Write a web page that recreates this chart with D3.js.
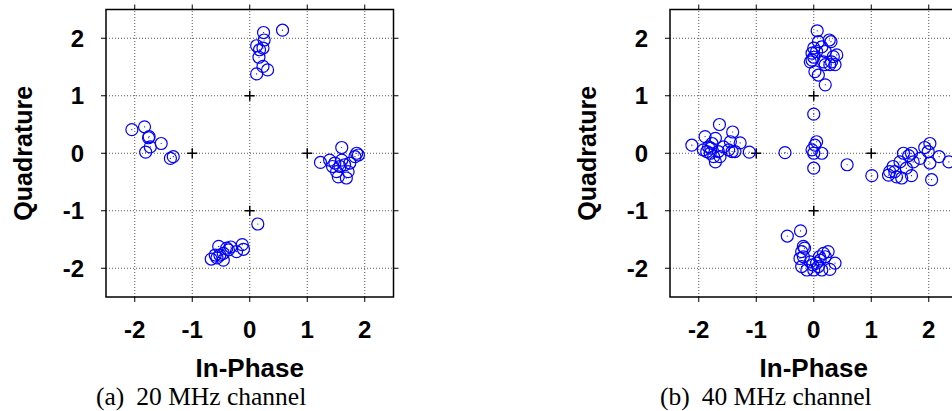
<!DOCTYPE html>
<html>
<head>
<meta charset="utf-8">
<script src="https://cdn.jsdelivr.net/npm/d3@7"></script>
<style>
  body { margin: 0; background: #fff; }
  svg { display: block; }
</style>
</head>
<body>
<div id="chart"></div>
<script>
// tick values shared by both panels
var tickVals = [-2, -1, 0, 1, 2];

// ideal constellation points (drawn as +)
var idealI = [1, 0, -1, 0];
var idealQ = [0, 1, 0, -1];

// 20 MHz channel samples
var iq20I = [0.57, 0.24, 0.25, 0.12, 0.23, 0.17, 0.16, 0.23, 0.31, 0.12,
  -2.05, -1.83, -1.75, -1.76, -1.54, -1.73, -1.81, -1.38, -1.33,
  1.60, 1.23, 1.39, 1.86, 1.89, 1.83, 1.60, 1.48, 1.65, 1.51, 1.71, 1.57, 1.68, 1.44, 1.74, 1.54,
  0.14, -0.13, -0.11, -0.23, -0.40, -0.54, -0.46, -0.37, -0.52, -0.60, -0.46, -0.67, -0.57, -0.33];
var iq20Q = [2.14, 2.10, 1.97, 1.87, 1.83, 1.80, 1.67, 1.51, 1.45, 1.38,
  0.41, 0.46, 0.29, 0.27, 0.17, 0.11, 0.02, -0.09, -0.06,
  0.10, -0.16, -0.12, 0.00, -0.03, -0.06, -0.12, -0.17, -0.20, -0.32, -0.32, -0.23, -0.43, -0.23, -0.17, -0.41,
  -1.23, -1.59, -1.67, -1.71, -1.65, -1.62, -1.74, -1.68, -1.77, -1.77, -1.86, -1.84, -1.82, -1.63];

// 40 MHz channel samples
var iq40I = [0.06, 0.27, 0.30, 0.08, 0.00, 0.14, -0.03, 0.05, 0.20, 0.40, 0.34, 0.31, 0.37, 0.28, -0.03, 0.00, 0.20, 0.17, 0.02, 0.08, 0.20, -0.06,
  -1.64, -2.12, -1.89, -1.71, -1.41, -1.45, -1.28, -1.12, -1.92, -1.83, -1.79, -1.80, -1.74, -1.71, -1.66, -1.57, -1.48, -1.42, -1.37, -1.63, -1.86, -1.77,
  -0.50, 0.00, 0.05, 0.02, -0.03, 0.00, 0.14, 0.00, 0.58,
  1.01, 2.05, 2.02, 1.93, 1.99, 2.18, 2.35, 1.56, 1.70, 1.65, 1.73, 1.85, 1.50, 2.02, 1.38, 1.32, 1.41, 1.44, 1.53, 1.70, 1.30, 1.61,
  -0.46, -0.23, -0.18, -0.16, -0.21, -0.18, -0.24, -0.21, -0.06, 0.00, 0.05, 0.11, 0.20, 0.25, 0.17, 0.14, 0.28, 0.37, -0.12, 0.08, -0.02, 0.10];
var iq40Q = [2.13, 1.97, 1.94, 1.94, 1.83, 1.85, 1.74, 1.77, 1.77, 1.71, 1.68, 1.59, 1.54, 1.54, 1.62, 1.67, 1.54, 1.59, 1.42, 1.36, 1.19, 1.59,
  0.50, 0.14, 0.29, 0.26, 0.37, 0.20, 0.18, 0.02, 0.06, 0.11, 0.09, 0.00, -0.06, -0.15, 0.03, 0.11, 0.06, 0.03, 0.03, -0.06, 0.03, 0.17,
  0.01, 0.68, 0.20, 0.14, 0.06, 0.00, 0.00, -0.26, -0.20,
  -0.39, -0.46, 0.17, 0.10, 0.03, -0.06, -0.15, 0.00, 0.00, -0.04, -0.15, -0.09, -0.15, -0.17, -0.23, -0.32, -0.32, -0.41, -0.43, -0.39, -0.38, -0.26,
  -1.44, -1.35, -1.62, -1.65, -1.71, -1.80, -1.83, -1.97, -1.89, -2.03, -1.91, -1.86, -1.80, -1.71, -1.74, -2.03, -2.02, -1.91, -2.03, -1.97, -1.94, -1.80];

var captions = ["(a)", "(b)"];
var captionText = ["20 MHz channel", "40 MHz channel"];

var width = 952, height = 411;
var plotSize = 287.5;
var plotTop = 9.5;

var svg = d3.select("#chart").append("svg")
  .attr("width", width)
  .attr("height", height);

function drawPanel(left, iVals, qVals, idx) {
  var x = d3.scaleLinear().domain([-2.5, 2.5]).range([left, left + plotSize]);
  var y = d3.scaleLinear().domain([-2.5, 2.5]).range([plotTop + plotSize, plotTop]);

  var g = svg.append("g");

  // dotted grid
  g.selectAll(".gx").data(tickVals).enter().append("line")
    .attr("x1", function(d) { return x(d); })
    .attr("x2", function(d) { return x(d); })
    .attr("y1", y(-2.5)).attr("y2", y(2.5))
    .attr("stroke", "#555").attr("stroke-width", 1)
    .attr("stroke-dasharray", "1,2");
  g.selectAll(".gy").data(tickVals).enter().append("line")
    .attr("y1", function(d) { return y(d); })
    .attr("y2", function(d) { return y(d); })
    .attr("x1", x(-2.5)).attr("x2", x(2.5))
    .attr("stroke", "#555").attr("stroke-width", 1)
    .attr("stroke-dasharray", "1,2");

  // outward ticks on all four sides
  var tl = 5;
  tickVals.forEach(function(d) {
    g.append("line").attr("x1", x(d)).attr("x2", x(d))
      .attr("y1", y(-2.5)).attr("y2", y(-2.5) + tl).attr("stroke", "#000");
    g.append("line").attr("x1", x(d)).attr("x2", x(d))
      .attr("y1", y(2.5)).attr("y2", y(2.5) - tl).attr("stroke", "#000");
    g.append("line").attr("y1", y(d)).attr("y2", y(d))
      .attr("x1", x(-2.5)).attr("x2", x(-2.5) - tl).attr("stroke", "#000");
    g.append("line").attr("y1", y(d)).attr("y2", y(d))
      .attr("x1", x(2.5)).attr("x2", x(2.5) + tl).attr("stroke", "#000");
  });

  // frame
  g.append("rect")
    .attr("x", x(-2.5)).attr("y", y(2.5))
    .attr("width", x(2.5) - x(-2.5)).attr("height", y(-2.5) - y(2.5))
    .attr("fill", "none").attr("stroke", "#000").attr("stroke-width", 1.5);

  // tick labels
  g.selectAll(".xl").data(tickVals).enter().append("text")
    .attr("x", function(d) { return x(d); })
    .attr("y", 338)
    .attr("text-anchor", "middle")
    .style("font", "bold 24px 'Liberation Sans', Arial, sans-serif")
    .text(function(d) { return d; });
  g.selectAll(".yl").data(tickVals).enter().append("text")
    .attr("x", left - 22)
    .attr("y", function(d) { return y(d); })
    .attr("dy", "0.36em")
    .attr("text-anchor", "end")
    .style("font", "bold 24px 'Liberation Sans', Arial, sans-serif")
    .text(function(d) { return d; });

  // axis titles
  g.append("text")
    .attr("x", x(0)).attr("y", 377)
    .attr("text-anchor", "middle")
    .style("font", "bold 26px 'Liberation Sans', Arial, sans-serif")
    .text("In-Phase");
  g.append("text")
    .attr("transform", "translate(" + (left - 74) + "," + y(0) + ") rotate(-90)")
    .attr("text-anchor", "middle")
    .style("font", "bold 25px 'Liberation Sans', Arial, sans-serif")
    .text("Quadrature");

  // ideal points
  var c = 5;
  idealI.forEach(function(d, i) {
    g.append("path")
      .attr("d", "M" + (x(d) - c) + "," + y(idealQ[i]) + "H" + (x(d) + c) +
        "M" + x(d) + "," + (y(idealQ[i]) - c) + "V" + (y(idealQ[i]) + c))
      .attr("stroke", "#000").attr("stroke-width", 1.5);
  });

  // samples
  var pts = g.selectAll(".pt").data(iVals).enter().append("g");
  pts.append("circle")
    .attr("cx", function(d) { return x(d); })
    .attr("cy", function(d, i) { return y(qVals[i]); })
    .attr("r", 6)
    .attr("fill", "none")
    .attr("stroke", "#0000ff")
    .attr("stroke-width", 1.2);
  pts.append("circle")
    .attr("cx", function(d) { return x(d); })
    .attr("cy", function(d, i) { return y(qVals[i]); })
    .attr("r", 0.6)
    .attr("fill", "#0000ff");

  // caption
  var cap = g.append("text")
    .attr("x", left - 10).attr("y", 405)
    .style("font", "25.5px 'Liberation Serif', 'Times New Roman', serif");
  cap.append("tspan").text(captions[idx]);
  cap.append("tspan").attr("dx", 12).text(captionText[idx]);
}

drawPanel(106, iq20I, iq20Q, 0);
drawPanel(670, iq40I, iq40Q, 1);
</script>
</body>
</html>
